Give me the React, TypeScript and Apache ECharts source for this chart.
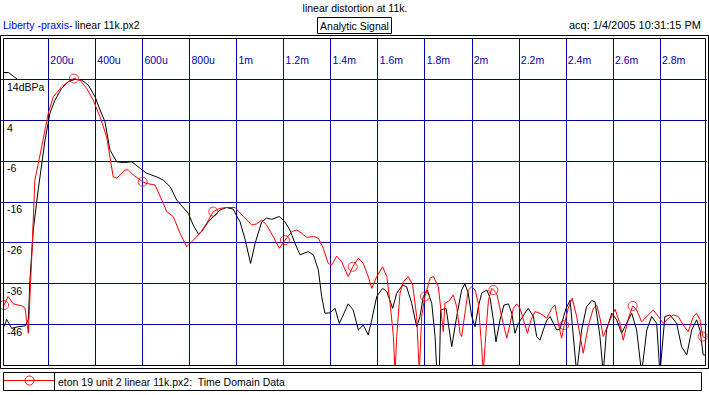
import React, { useEffect, useRef } from 'react';
import * as echarts from 'echarts';

// time in ms, level in dBPa
const redT = [0.012,0.029,0.051,0.088,0.101,0.115,0.129,0.143,0.172,0.200,0.221,0.257,0.285,0.309,0.335,0.363,0.391,0.420,0.448,0.476,0.491,0.526,0.540,0.561,0.601,0.618,0.654,0.689,0.703,0.731,0.760,0.788,0.810,0.845,0.873,0.901,0.930,0.958,0.994,1.029,1.065,1.086,1.107,1.128,1.157,1.182,1.206,1.235,1.256,1.277,1.298,1.327,1.348,1.369,1.390,1.405,1.426,1.447,1.475,1.494,1.518,1.539,1.560,1.575,1.596,1.621,1.639,1.653,1.667,1.674,1.681,1.695,1.709,1.730,1.749,1.766,1.777,1.787,1.801,1.823,1.837,1.858,1.879,1.886,1.907,1.921,1.936,1.950,1.957,1.971,1.985,2.000,2.014,2.028,2.042,2.049,2.061,2.071,2.085,2.092,2.106,2.127,2.149,2.163,2.177,2.191,2.205,2.220,2.237,2.251,2.269,2.290,2.319,2.340,2.354,2.368,2.382,2.393,2.410,2.427,2.446,2.474,2.496,2.517,2.531,2.545,2.559,2.581,2.609,2.630,2.644,2.666,2.684,2.701,2.722,2.744,2.772,2.793,2.815,2.836,2.857,2.878,2.899,2.920,2.942,2.956,2.970,2.982,2.994];
const redDb = [-41.3,-39.2,-41.0,-41.5,-42.0,-48.2,-30.3,-10.7,-2.5,5.7,9.7,12.2,13.4,14.2,13.8,11.8,8.9,4.8,-0.1,-9.9,-10.2,-8.2,-8.2,-9.4,-11.1,-11.5,-11.9,-16.4,-18.4,-19.6,-23.7,-27.0,-25.8,-23.7,-21.3,-18.4,-17.6,-17.4,-17.4,-19.6,-21.7,-21.4,-20.5,-21.7,-24.6,-27.4,-25.4,-23.3,-22.9,-23.7,-24.7,-24.5,-24.9,-27.4,-31.1,-31.5,-29.3,-30.7,-34.3,-31.9,-29.8,-31.1,-34.3,-37.2,-34.3,-31.9,-34.3,-40.9,-49.0,-58,-49.0,-38.4,-35.6,-34.3,-36.4,-44.1,-58,-44.1,-39.2,-34.7,-34.3,-36.8,-47.8,-40.9,-40.1,-38.8,-41.7,-48.2,-49.0,-43.3,-37.6,-36.8,-37.6,-40.9,-51.5,-58,-47.4,-40.1,-37.2,-37.6,-38.4,-44.1,-49.4,-45.8,-42.1,-41.0,-42.1,-45.0,-48.2,-45.0,-42.9,-43.3,-44.5,-42.1,-41.3,-45.8,-49.4,-46.2,-42.1,-39.6,-44.1,-53.1,-46.2,-42.1,-41.3,-44.5,-49.0,-45.8,-42.3,-45.8,-49.9,-44.5,-41.5,-42.5,-45.4,-44.1,-42.5,-44.1,-45.8,-44.5,-43.7,-44.1,-46.2,-47.8,-44.1,-43.3,-44.9,-49.0,-49.4];

const blackT = [0.012,0.023,0.044,0.072,0.101,0.115,0.122,0.136,0.157,0.186,0.207,0.228,0.257,0.285,0.313,0.342,0.370,0.399,0.420,0.441,0.462,0.491,0.519,0.555,0.590,0.618,0.661,0.689,0.718,0.746,0.795,0.816,0.838,0.852,0.880,0.930,0.958,0.986,1.001,1.015,1.036,1.060,1.079,1.107,1.128,1.150,1.182,1.206,1.227,1.249,1.270,1.305,1.327,1.348,1.362,1.376,1.397,1.419,1.437,1.457,1.475,1.496,1.518,1.539,1.560,1.575,1.596,1.621,1.639,1.664,1.681,1.706,1.723,1.745,1.766,1.780,1.794,1.811,1.830,1.844,1.852,1.862,1.868,1.891,1.915,1.936,1.957,1.971,1.985,2.000,2.014,2.028,2.042,2.064,2.078,2.092,2.103,2.120,2.137,2.156,2.170,2.184,2.198,2.226,2.240,2.262,2.276,2.290,2.304,2.319,2.333,2.347,2.361,2.375,2.401,2.418,2.446,2.467,2.488,2.510,2.524,2.545,2.559,2.573,2.595,2.616,2.637,2.658,2.680,2.701,2.722,2.744,2.765,2.786,2.800,2.821,2.843,2.871,2.892,2.914,2.935,2.956,2.970,2.984,2.996];
const blackDb = [-46.6,-44.8,-47.0,-46.6,-46.4,-44.9,-35.2,-22.9,-13.1,-0.9,5.7,8.9,11.8,13.4,14.0,13.8,12.6,9.7,6.5,3.6,-3.3,-6.2,-6.4,-6.2,-7.8,-9.0,-9.9,-10.7,-12.3,-15.6,-18.8,-21.7,-23.9,-23.3,-20.9,-18.0,-17.4,-17.8,-19.5,-20.9,-25.1,-31.1,-26.2,-20.9,-20.0,-20.3,-19.6,-20.9,-22.9,-26.2,-29.0,-28.2,-29.0,-32.7,-39.2,-43.3,-43.2,-42.1,-45.8,-43.3,-41.0,-42.5,-47.4,-46.2,-48.6,-44.9,-39.2,-37.2,-38.0,-42.1,-38.4,-36.4,-36.8,-40.9,-46.6,-44.1,-39.2,-37.6,-40.9,-49.0,-58,-58,-42.5,-42.1,-51.5,-44.1,-37.6,-36.1,-38.4,-44.1,-46.6,-41.7,-38.4,-37.6,-39.6,-45.0,-50.3,-45.0,-41.3,-41.0,-43.3,-48.2,-45.8,-43.3,-42.1,-44.1,-49.0,-49.9,-47.4,-45.0,-44.1,-45.8,-47.4,-47.2,-42.1,-40.1,-58,-47.4,-41.7,-40.2,-40.5,-49.0,-58,-47.4,-43.3,-44.9,-48.2,-45.8,-43.3,-47.4,-58,-47.4,-44.1,-45.8,-58,-44.1,-43.7,-45.8,-51.5,-53.5,-47.4,-44.9,-47.4,-53.5,-53.5];

const markerT = [0.012,0.309,0.601,0.901,1.206,1.494,1.801,2.092,2.393,2.684,2.982];
const markerDb = [-41.3,14.2,-11.1,-18.4,-25.4,-31.9,-39.2,-37.6,-46.2,-41.5,-49.0];

const xTickLabels = ['200u','400u','600u','800u','1m','1.2m','1.4m','1.6m','1.8m','2m','2.2m','2.4m','2.6m','2.8m'];
const yTickLabels = ['14dBPa','4','-6','-16','-26','-36','-46'];

const FONT = '"Liberation Sans", Arial, sans-serif';
const NAVY = '#0000a8';

export default function App() {
  const ref = useRef<HTMLDivElement>(null);
  useEffect(() => {
    const chart = echarts.init(ref.current!, null, { renderer: 'svg' });
    const txt = (x: number, y: number, text: string, align: string, fill = '#000', size = 10.5) => ({
      type: 'text', x, y, z: 100,
      style: { text, fill, font: `${size}px ${FONT}`, align, verticalAlign: 'middle' },
    });
    chart.setOption({
      animation: false,
      grid: { left: 1.25, top: 38.5, width: 705.75, height: 326.6, containLabel: false },
      xAxis: {
        type: 'value', position: 'top', min: 0, max: 3, interval: 0.2,
        axisLine: { show: false }, axisTick: { show: false },
        splitLine: { show: true, showMinLine: false, showMaxLine: false, lineStyle: { color: NAVY, width: 1 } },
        axisLabel: {
          inside: true, margin: 21.5, align: 'left', verticalAlign: 'middle', padding: [0, 0, 0, 2],
          color: NAVY, fontSize: 10.5, fontFamily: FONT, showMinLabel: false, showMaxLabel: false,
          formatter: (v: number) => xTickLabels[Math.round(v / 0.2) - 1] ?? '',
        },
      },
      yAxis: {
        type: 'value', min: -56, max: 24, interval: 10,
        axisLine: { show: false }, axisTick: { show: false },
        splitLine: { show: true, showMinLine: false, showMaxLine: false, lineStyle: { color: NAVY, width: 1 } },
        axisLabel: {
          inside: true, margin: 5.75, align: 'left', verticalAlign: 'top', padding: [2, 0, 0, 0],
          color: '#000', fontSize: 10.5, fontFamily: FONT, showMinLabel: false, showMaxLabel: false,
          formatter: (v: number) => yTickLabels[Math.round((14 - v) / 10)] ?? '',
        },
      },
      series: [
        {
          type: 'line', name: 'black', data: blackT.map((t, i) => [t, blackDb[i]]),
          symbol: 'none', lineStyle: { color: '#000', width: 1 }, z: 2,
        },
        {
          type: 'line', name: 'red', data: redT.map((t, i) => [t, redDb[i]]),
          symbol: 'none', lineStyle: { color: '#ff0000', width: 1 }, z: 3,
        },
        {
          type: 'scatter', name: 'markers', data: markerT.map((t, i) => [t, markerDb[i]]),
          symbol: 'circle', symbolSize: 9,
          itemStyle: { color: 'rgba(0,0,0,0)', borderColor: '#ff0000', borderWidth: 1 }, z: 4,
        },
      ],
      graphic: [
        { type: 'rect', z: 100, shape: { x: 0.5, y: 35.5, width: 708, height: 333 }, style: { fill: 'none', stroke: '#000', lineWidth: 1 } },
        { type: 'rect', z: 100, shape: { x: 3.5, y: 38.5, width: 702, height: 327 }, style: { fill: 'none', stroke: '#000', lineWidth: 1 } },
        { type: 'polyline', z: 100, shape: { points: [[4, 72.5], [8.5, 72.5], [17, 79]] }, style: { fill: 'none', stroke: '#000', lineWidth: 1 } },
        txt(355, 8, 'linear distortion at 11k.', 'center'),
        txt(3, 25, 'Liberty -praxis-', 'left', '#0000ff'),
        txt(75, 25, 'linear 11k.px2', 'left'),
        { type: 'rect', z: 100, shape: { x: 317.5, y: 17.5, width: 74, height: 16 }, style: { fill: 'none', stroke: '#000', lineWidth: 1 } },
        txt(354.5, 25.5, 'Analytic Signal', 'center'),
        txt(701, 25, 'acq: 1/4/2005 10:31:15 PM', 'right', '#000', 11),
        { type: 'rect', z: 100, shape: { x: 3.5, y: 372.5, width: 698, height: 18 }, style: { fill: 'none', stroke: '#000', lineWidth: 1 } },
        { type: 'line', z: 100, shape: { x1: 54.5, y1: 372.5, x2: 54.5, y2: 390.5 }, style: { stroke: '#000', lineWidth: 1 } },
        { type: 'line', z: 100, shape: { x1: 4, y1: 380.5, x2: 54, y2: 380.5 }, style: { stroke: '#ff0000', lineWidth: 1 } },
        { type: 'circle', z: 100, shape: { cx: 29.5, cy: 380.5, r: 4.5 }, style: { fill: 'none', stroke: '#ff0000', lineWidth: 1 } },
        txt(58, 381.5, 'eton 19 unit 2 linear 11k.px2:  Time Domain Data', 'left'),
      ],
    });
    return () => chart.dispose();
  }, []);
  return <div ref={ref} style={{ position: 'fixed', left: 0, top: 0, width: 709, height: 395, background: '#fff' }} />;
}
